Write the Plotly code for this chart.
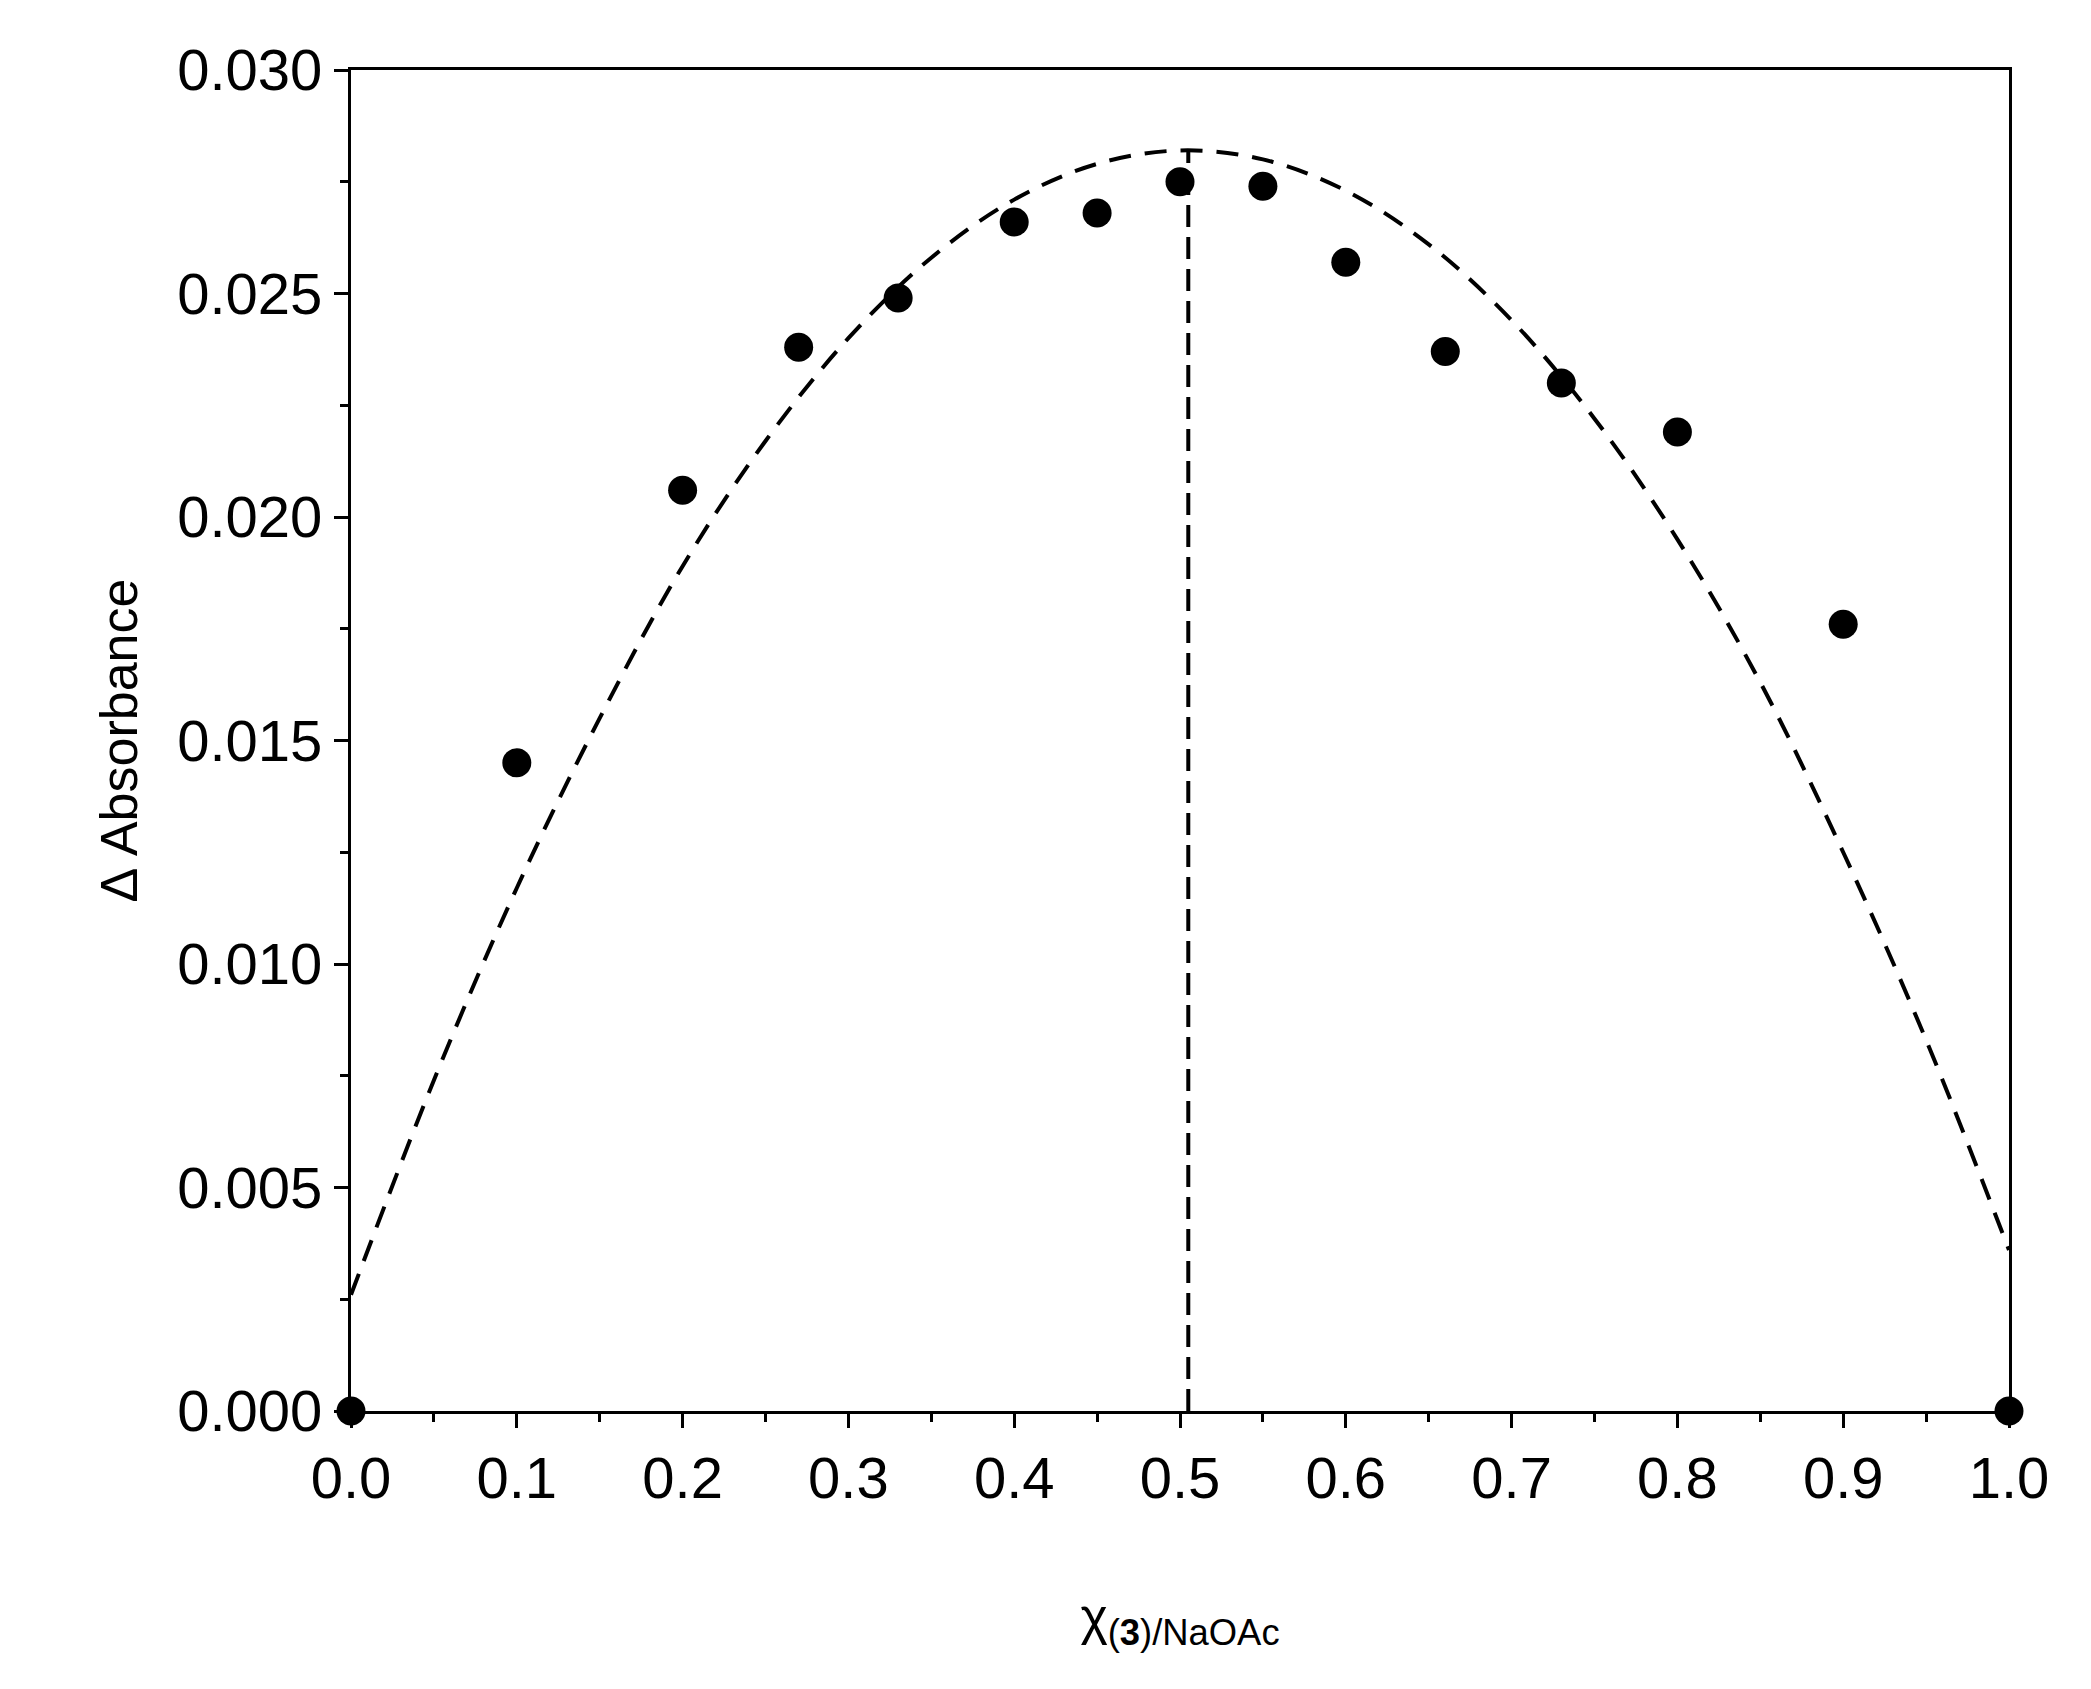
import plotly.graph_objects as go

# measured points
x_data = [0.0, 0.1, 0.2, 0.27, 0.33, 0.4, 0.45, 0.5, 0.55, 0.6, 0.66, 0.73, 0.8, 0.9, 1.0]
y_data = [0.0, 0.0145, 0.0206, 0.0238, 0.0249, 0.0266, 0.0268, 0.0275, 0.0274, 0.0257, 0.0237, 0.0230, 0.0219, 0.0176, 0.0]

# dashed fit curve
x_fit = [0.0, 0.05, 0.1, 0.15, 0.2, 0.25, 0.3, 0.35, 0.4, 0.45, 0.5, 0.55, 0.6, 0.65, 0.7, 0.75, 0.8, 0.85, 0.9, 0.95, 1.0]
y_fit = [0.0026, 0.0074, 0.0117, 0.0155, 0.0189, 0.0217, 0.0240, 0.0258, 0.0271, 0.0279, 0.0282, 0.0280, 0.0273, 0.0261, 0.0244, 0.0222, 0.0195, 0.0163, 0.0125, 0.0083, 0.0036]

x_max = [0.505, 0.505]
y_max = [0.0, 0.0282]

font = "Liberation Sans, Arial, sans-serif"

fig = go.Figure()
fig.add_trace(go.Scatter(x=x_fit, y=y_fit, mode="lines", line=dict(color="black", width=4, dash="22px,14px", shape="spline")))
fig.add_trace(go.Scatter(x=x_max, y=y_max, mode="lines", line=dict(color="black", width=4, dash="22px,10px")))
fig.add_trace(go.Scatter(x=x_data, y=y_data, mode="markers", marker=dict(color="black", size=29), cliponaxis=False))

axis = dict(showline=True, linecolor="black", linewidth=3, mirror=True, showgrid=False, zeroline=False,
            ticks="outside", ticklen=14, tickwidth=3, tickcolor="black",
            minor=dict(ticks="outside", ticklen=8, tickwidth=3, tickcolor="black"),
            tickfont=dict(size=58, color="black", family=font))

fig.update_layout(
    width=2091, height=1689, plot_bgcolor="white", paper_bgcolor="white", showlegend=False,
    margin=dict(l=343, r=90, t=62, b=286),
    font=dict(family=font, color="black"),
    xaxis=dict(axis, range=[0, 1], dtick=0.1, tickformat=".1f", minor=dict(axis["minor"], dtick=0.05),
               title=dict(text="χ<sub>(<b>3</b>)/NaOAc</sub>", font=dict(size=52), standoff=90)),
    yaxis=dict(axis, range=[0, 0.03], dtick=0.005, tickformat=".3f", minor=dict(axis["minor"], dtick=0.0025),
               title=dict(text="Δ Absorbance", font=dict(size=52), standoff=24)),
)

fig.write_html("out.html")
